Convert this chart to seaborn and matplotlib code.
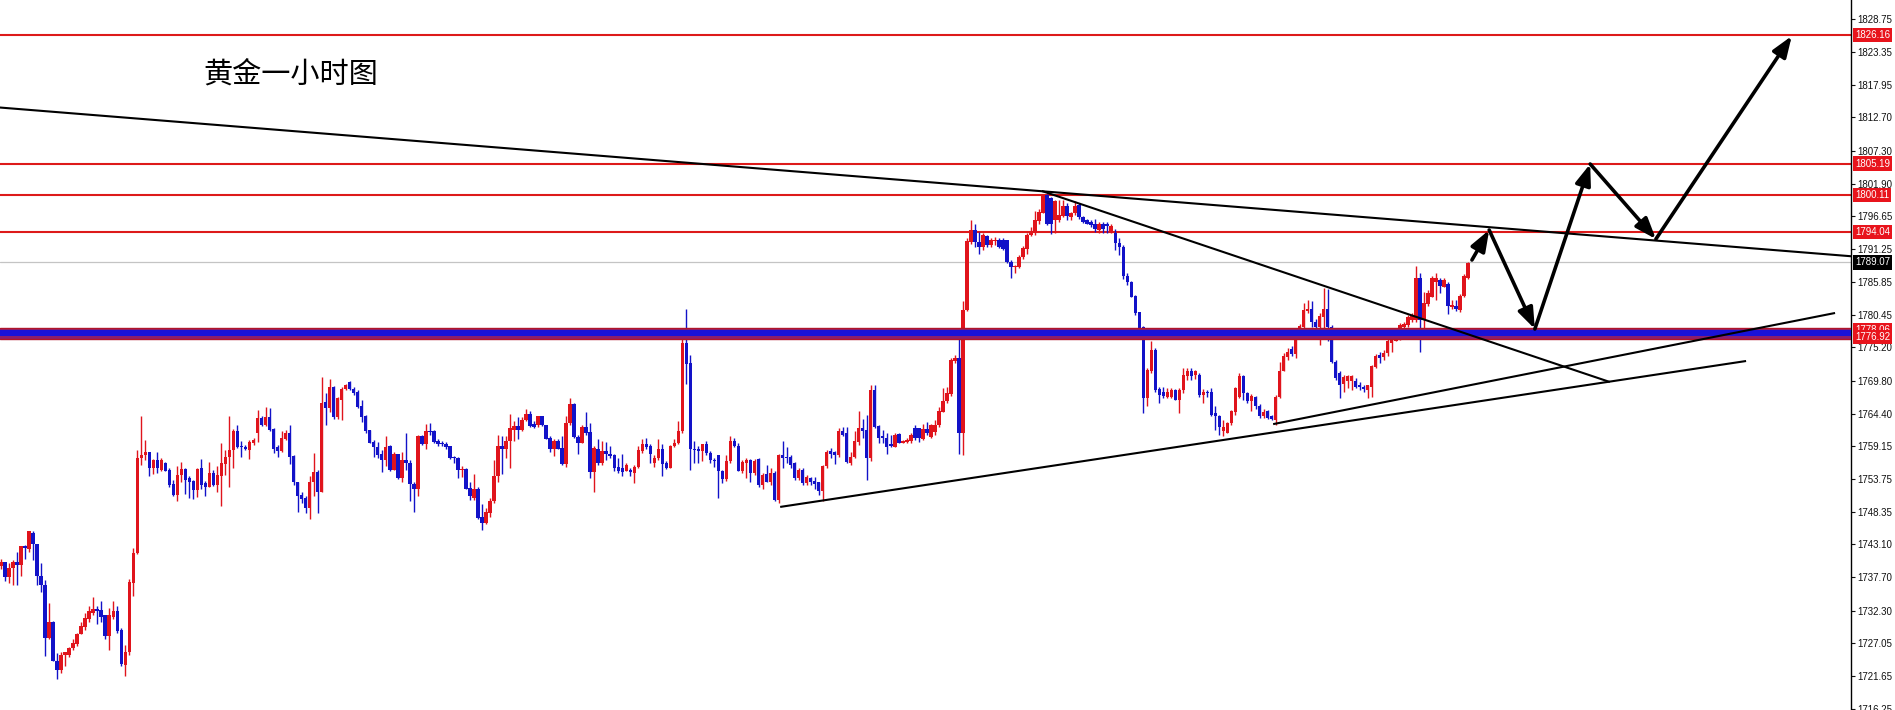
import numpy as np
import pandas as pd
import matplotlib
matplotlib.use("Agg")
import matplotlib.pyplot as plt
import matplotlib.transforms as mtransforms
import seaborn as sns

# ---------------- data ----------------
opens = [
1739.5, 1740.2, 1737.7, 1739.2, 1740.2, 1739.7, 1742.9, 1742.4, 1745.0, 1743.1,
1737.9, 1736.5, 1727.9, 1730.5, 1724.1, 1722.6, 1725.0, 1725.1, 1726.2, 1726.8,
1728.5, 1729.7, 1730.9, 1731.9, 1732.6, 1732.4, 1731.5, 1728.2, 1731.3, 1732.3,
1729.2, 1723.5, 1725.5, 1736.8, 1741.7, 1757.1, 1757.7, 1758.1, 1755.5, 1756.8,
1755.2, 1756.3, 1755.2, 1752.9, 1751.2, 1754.4, 1755.4, 1753.9, 1753.5, 1752.0,
1755.5, 1753.1, 1752.5, 1754.8, 1752.8, 1754.3, 1756.2, 1757.3, 1758.5, 1761.5,
1759.0, 1758.9, 1758.5, 1759.7, 1761.2, 1763.7, 1762.6, 1763.9, 1761.9, 1758.9,
1758.3, 1760.3, 1761.2, 1757.5, 1753.3, 1751.1, 1750.7, 1749.0, 1753.2, 1754.9,
1751.7, 1766.3, 1765.3, 1768.8, 1763.9, 1766.7, 1768.5, 1769.5, 1768.5, 1768.0,
1765.6, 1764.0, 1761.7, 1759.8, 1759.0, 1757.8, 1756.9, 1759.1, 1755.3, 1757.8,
1753.9, 1756.9, 1756.4, 1753.0, 1752.2, 1760.7, 1759.5, 1761.6, 1761.6, 1760.0,
1759.7, 1759.5, 1759.1, 1757.4, 1757.2, 1755.2, 1755.4, 1752.3, 1750.7, 1752.2,
1747.6, 1746.6, 1748.2, 1750.1, 1754.2, 1759.1, 1758.6, 1759.9, 1761.8, 1762.4,
1761.8, 1763.3, 1764.3, 1762.7, 1762.5, 1764.0, 1762.5, 1760.5, 1758.7, 1760.0,
1758.8, 1756.2, 1762.9, 1765.9, 1760.6, 1759.7, 1762.2, 1761.4, 1754.9, 1758.7,
1756.4, 1758.3, 1757.8, 1757.7, 1755.7, 1755.5, 1755.1, 1755.3, 1754.7, 1755.7,
1758.3, 1759.5, 1759.1, 1756.4, 1757.1, 1758.6, 1756.4, 1755.6, 1759.1, 1759.6,
1761.5, 1775.9, 1772.7, 1758.7, 1758.6, 1758.3, 1759.4, 1758.0, 1756.9, 1757.6,
1755.0, 1753.7, 1756.7, 1759.9, 1759.2, 1755.0, 1756.3, 1756.9, 1754.7, 1757.0,
1752.8, 1754.5, 1753.3, 1754.7, 1750.3, 1757.6, 1757.4, 1757.3, 1756.3, 1753.9,
1755.3, 1753.1, 1753.9, 1753.4, 1753.2, 1751.8, 1755.8, 1758.3, 1758.2, 1757.6,
1761.6, 1761.2, 1756.3, 1757.3, 1759.8, 1762.1, 1761.7, 1757.2, 1768.3, 1762.4,
1760.7, 1760.5, 1759.4, 1759.0, 1761.1, 1759.7, 1759.8, 1759.9, 1762.1, 1762.0,
1760.3, 1761.9, 1760.6, 1761.4, 1762.5, 1764.7, 1766.4, 1767.6, 1773.0, 1773.5,
1761.2, 1781.3, 1792.4, 1794.3, 1792.4, 1791.6, 1793.4, 1791.9, 1792.6, 1792.8,
1792.7, 1792.7, 1789.2, 1788.3, 1788.3, 1789.9, 1791.2, 1793.5, 1793.8, 1795.8,
1797.2, 1800.1, 1799.5, 1795.9, 1795.9, 1796.7, 1798.3, 1796.4, 1797.1, 1798.4,
1796.5, 1795.9, 1795.7, 1795.3, 1794.4, 1795.4, 1795.4, 1793.9, 1793.9, 1792.2,
1791.6, 1786.8, 1785.9, 1783.6, 1780.9, 1778.6, 1766.9, 1771.4, 1774.8, 1768.4,
1767.9, 1767.2, 1767.2, 1768.2, 1766.7, 1768.2, 1770.5, 1771.3, 1770.7, 1770.7,
1767.5, 1768.0, 1768.0, 1764.5, 1764.1, 1761.5, 1761.3, 1762.9, 1764.6, 1767.2,
1770.5, 1767.7, 1766.4, 1767.2, 1765.7, 1764.0, 1764.8, 1764.0, 1763.4, 1767.2,
1771.4, 1773.7, 1774.9, 1774.2, 1777.1, 1778.6, 1781.1, 1781.4, 1779.4, 1778.5,
1780.2, 1781.4, 1778.6, 1772.9, 1771.0, 1769.3, 1769.7, 1769.8, 1769.8, 1769.1,
1768.8, 1768.3, 1768.8, 1772.0, 1774.0, 1773.7, 1774.3, 1776.0, 1776.3, 1776.9,
1778.5, 1778.9, 1779.7, 1779.7, 1786.5, 1779.7, 1782.3, 1783.5, 1785.9, 1786.2,
1785.1, 1785.6, 1781.8, 1782.0, 1781.3, 1783.6, 1786.6,
]

highs = [
1740.7, 1740.2, 1740.0, 1740.5, 1741.8, 1742.9, 1743.0, 1745.3, 1745.2, 1743.2,
1740.0, 1737.3, 1733.5, 1730.6, 1725.4, 1725.5, 1725.6, 1726.4, 1727.7, 1728.6,
1730.5, 1731.9, 1733.1, 1734.5, 1733.0, 1733.9, 1731.6, 1732.8, 1733.8, 1733.0,
1729.5, 1726.7, 1737.5, 1742.5, 1758.5, 1764.0, 1760.1, 1758.1, 1757.0, 1758.1,
1757.1, 1756.6, 1755.5, 1753.6, 1755.8, 1756.6, 1755.6, 1754.2, 1753.6, 1755.6,
1757.0, 1753.4, 1756.5, 1755.2, 1755.9, 1759.7, 1758.5, 1764.0, 1761.9, 1762.6,
1759.9, 1759.3, 1760.1, 1760.4, 1765.0, 1764.0, 1765.5, 1765.3, 1762.0, 1759.3,
1761.5, 1761.8, 1762.5, 1757.7, 1753.3, 1751.7, 1750.9, 1754.2, 1758.0, 1755.2,
1770.4, 1767.8, 1770.0, 1768.9, 1767.2, 1768.8, 1769.2, 1769.7, 1768.8, 1768.2,
1766.6, 1764.2, 1761.7, 1760.1, 1759.8, 1758.5, 1760.8, 1759.3, 1758.2, 1757.9,
1758.2, 1761.3, 1756.9, 1753.3, 1760.9, 1760.9, 1762.7, 1762.9, 1761.7, 1760.2,
1760.0, 1759.8, 1759.2, 1757.5, 1757.4, 1755.9, 1755.5, 1753.3, 1754.6, 1752.4,
1749.6, 1749.0, 1750.6, 1756.8, 1761.0, 1760.7, 1760.7, 1764.3, 1763.2, 1763.8,
1763.8, 1765.1, 1764.8, 1763.2, 1764.1, 1764.1, 1762.6, 1760.7, 1760.2, 1760.2,
1760.7, 1764.0, 1766.9, 1766.2, 1761.0, 1762.5, 1764.6, 1762.9, 1759.1, 1760.2,
1759.9, 1759.8, 1759.1, 1757.8, 1757.2, 1757.8, 1756.4, 1755.6, 1756.1, 1759.1,
1760.3, 1760.5, 1759.4, 1757.7, 1760.2, 1759.5, 1756.7, 1759.3, 1760.3, 1763.2,
1777.0, 1781.4, 1774.0, 1759.9, 1759.1, 1759.5, 1760.0, 1758.3, 1757.2, 1757.7,
1755.3, 1757.7, 1760.7, 1760.5, 1759.7, 1756.9, 1757.1, 1757.0, 1757.0, 1757.1,
1754.7, 1756.1, 1755.5, 1755.0, 1757.8, 1760.0, 1758.9, 1757.6, 1756.5, 1755.5,
1755.5, 1754.4, 1754.1, 1754.1, 1753.3, 1756.1, 1758.5, 1758.8, 1758.3, 1762.0,
1762.3, 1762.3, 1758.2, 1761.5, 1764.8, 1763.5, 1764.2, 1769.1, 1769.1, 1762.6,
1761.8, 1761.2, 1760.9, 1761.3, 1761.2, 1760.1, 1760.4, 1761.3, 1762.6, 1762.1,
1762.8, 1763.1, 1762.7, 1763.4, 1765.5, 1768.6, 1768.8, 1773.4, 1774.0, 1777.0,
1782.7, 1793.0, 1796.0, 1795.4, 1794.1, 1793.8, 1793.5, 1793.0, 1793.2, 1793.0,
1793.0, 1792.8, 1789.5, 1788.7, 1790.3, 1791.8, 1793.8, 1794.9, 1797.5, 1797.7,
1800.2, 1800.2, 1799.8, 1799.2, 1799.2, 1799.2, 1798.7, 1797.3, 1799.0, 1798.8,
1796.6, 1796.1, 1795.9, 1796.1, 1795.7, 1795.7, 1795.7, 1795.3, 1794.5, 1793.0,
1791.9, 1787.3, 1786.1, 1783.8, 1781.0, 1778.7, 1771.8, 1776.2, 1775.1, 1768.7,
1768.8, 1768.6, 1768.6, 1768.4, 1768.6, 1771.8, 1771.8, 1771.8, 1771.5, 1771.0,
1768.4, 1768.3, 1768.6, 1765.6, 1764.2, 1763.4, 1763.1, 1765.0, 1768.8, 1771.0,
1770.7, 1768.0, 1767.6, 1767.3, 1766.0, 1765.1, 1765.0, 1764.2, 1767.5, 1772.9,
1774.3, 1775.1, 1775.4, 1777.6, 1779.0, 1782.4, 1783.0, 1782.7, 1779.8, 1780.8,
1784.9, 1784.7, 1778.9, 1773.2, 1771.3, 1770.7, 1770.7, 1770.7, 1770.2, 1769.5,
1769.1, 1769.1, 1772.4, 1774.2, 1774.4, 1774.8, 1776.5, 1776.9, 1778.2, 1779.2,
1779.4, 1780.5, 1780.8, 1788.4, 1787.3, 1784.3, 1784.5, 1786.8, 1787.3, 1786.5,
1786.5, 1785.8, 1783.0, 1783.0, 1783.9, 1787.2, 1789.2,
]

lows = [
1739.0, 1737.2, 1736.8, 1736.5, 1736.4, 1737.9, 1740.7, 1741.8, 1740.6, 1736.4,
1735.3, 1724.9, 1727.6, 1724.0, 1721.1, 1722.1, 1723.2, 1724.8, 1725.8, 1726.5,
1728.4, 1729.2, 1730.5, 1731.6, 1730.1, 1730.5, 1727.6, 1725.8, 1731.0, 1728.6,
1723.2, 1721.7, 1725.1, 1734.6, 1741.6, 1756.1, 1756.9, 1754.2, 1754.6, 1754.8,
1755.1, 1755.0, 1752.5, 1750.9, 1750.2, 1753.3, 1751.3, 1750.7, 1750.5, 1750.8,
1752.1, 1751.0, 1752.4, 1752.6, 1751.7, 1749.4, 1754.4, 1752.4, 1755.5, 1758.8,
1757.4, 1758.5, 1757.0, 1759.3, 1759.8, 1762.4, 1762.4, 1761.5, 1758.0, 1757.3,
1758.2, 1760.1, 1756.2, 1752.8, 1748.4, 1749.9, 1748.2, 1747.3, 1750.9, 1748.2,
1751.6, 1762.5, 1764.7, 1763.6, 1763.5, 1763.4, 1768.2, 1768.2, 1767.4, 1765.4,
1763.1, 1761.3, 1759.6, 1757.4, 1757.1, 1754.9, 1755.8, 1755.1, 1755.2, 1753.7,
1753.2, 1755.3, 1750.1, 1748.3, 1750.9, 1759.3, 1758.7, 1760.9, 1759.7, 1759.1,
1759.2, 1758.7, 1757.0, 1756.3, 1753.9, 1754.1, 1752.1, 1750.4, 1750.3, 1747.3,
1745.5, 1746.4, 1747.6, 1749.9, 1753.3, 1754.6, 1757.2, 1755.6, 1759.9, 1760.3,
1761.5, 1763.2, 1762.2, 1762.1, 1762.2, 1762.4, 1760.2, 1758.2, 1757.5, 1758.6,
1756.1, 1755.7, 1762.6, 1760.4, 1757.8, 1759.6, 1761.0, 1753.9, 1751.7, 1756.1,
1756.1, 1756.9, 1757.2, 1755.0, 1754.7, 1754.2, 1755.0, 1754.2, 1753.1, 1755.6,
1758.0, 1758.7, 1756.4, 1755.7, 1756.8, 1754.2, 1755.4, 1755.5, 1758.9, 1759.5,
1761.3, 1769.2, 1755.2, 1756.4, 1756.4, 1756.7, 1757.7, 1756.4, 1755.7, 1750.7,
1753.1, 1753.5, 1756.4, 1758.9, 1755.0, 1754.7, 1753.9, 1753.3, 1754.4, 1752.5,
1752.1, 1753.2, 1752.8, 1750.1, 1749.8, 1755.5, 1756.3, 1755.5, 1753.6, 1753.6,
1752.8, 1752.8, 1752.8, 1752.1, 1751.2, 1750.1, 1755.5, 1757.1, 1756.2, 1757.4,
1760.7, 1756.3, 1756.1, 1757.1, 1759.3, 1760.4, 1753.6, 1756.7, 1762.0, 1759.7,
1759.7, 1757.8, 1758.9, 1758.9, 1759.6, 1759.6, 1759.6, 1759.7, 1760.1, 1759.8,
1760.1, 1761.0, 1760.4, 1761.0, 1762.3, 1764.6, 1766.2, 1767.3, 1772.6, 1757.9,
1757.6, 1781.1, 1792.0, 1791.6, 1790.5, 1791.1, 1791.6, 1791.6, 1791.9, 1791.4,
1791.1, 1789.0, 1786.5, 1787.4, 1788.1, 1789.7, 1790.4, 1793.3, 1793.5, 1795.4,
1797.1, 1795.2, 1793.7, 1793.8, 1795.7, 1796.4, 1795.9, 1795.9, 1796.8, 1796.1,
1795.5, 1795.3, 1794.9, 1794.1, 1793.8, 1793.8, 1793.9, 1793.8, 1791.1, 1790.3,
1786.3, 1785.4, 1783.4, 1780.5, 1778.1, 1764.5, 1765.6, 1771.1, 1767.9, 1766.2,
1766.9, 1766.9, 1766.9, 1766.6, 1764.5, 1767.7, 1769.9, 1769.9, 1770.0, 1767.2,
1766.2, 1767.2, 1764.0, 1761.8, 1761.0, 1760.7, 1761.2, 1762.6, 1764.2, 1766.9,
1766.7, 1766.2, 1764.8, 1765.1, 1763.7, 1763.7, 1763.5, 1763.3, 1762.6, 1766.9,
1771.3, 1773.2, 1773.8, 1773.5, 1776.9, 1777.5, 1780.8, 1778.6, 1778.3, 1775.6,
1777.3, 1776.2, 1772.6, 1769.9, 1766.9, 1768.0, 1768.6, 1768.3, 1768.6, 1768.3,
1768.0, 1766.9, 1767.2, 1771.8, 1772.6, 1773.2, 1773.8, 1774.5, 1776.2, 1776.4,
1778.3, 1778.6, 1779.4, 1779.4, 1774.5, 1776.5, 1782.0, 1783.4, 1783.0, 1784.0,
1785.0, 1780.7, 1781.4, 1781.2, 1780.9, 1783.4, 1786.3,
]

closes = [
1740.3, 1737.7, 1739.3, 1740.2, 1739.7, 1742.8, 1742.5, 1745.2, 1743.1, 1737.9,
1736.4, 1727.9, 1730.4, 1724.1, 1722.6, 1725.0, 1725.5, 1726.2, 1727.0, 1728.5,
1729.8, 1731.1, 1732.2, 1732.6, 1732.3, 1731.3, 1728.2, 1731.5, 1732.3, 1728.9,
1723.6, 1725.5, 1736.9, 1741.7, 1757.1, 1757.7, 1758.1, 1755.5, 1756.8, 1755.5,
1756.8, 1755.1, 1752.8, 1751.2, 1754.4, 1755.4, 1753.6, 1753.2, 1752.0, 1755.4,
1752.8, 1752.5, 1754.7, 1752.8, 1754.4, 1756.3, 1757.4, 1758.5, 1761.5, 1759.0,
1758.9, 1758.6, 1759.8, 1760.1, 1763.7, 1762.6, 1763.9, 1761.7, 1758.6, 1758.3,
1760.4, 1761.2, 1757.4, 1753.2, 1751.0, 1750.5, 1749.0, 1753.3, 1754.9, 1751.7,
1766.2, 1765.3, 1768.8, 1763.9, 1766.9, 1768.5, 1769.1, 1768.5, 1767.8, 1765.5,
1763.9, 1761.6, 1759.7, 1758.9, 1757.7, 1756.9, 1758.9, 1755.3, 1757.8, 1753.9,
1756.9, 1756.3, 1752.9, 1752.2, 1760.7, 1759.5, 1761.5, 1761.4, 1759.8, 1759.5,
1759.4, 1758.9, 1757.2, 1757.1, 1755.3, 1755.4, 1752.2, 1750.9, 1752.2, 1747.4,
1746.6, 1748.3, 1750.2, 1754.2, 1759.1, 1758.6, 1759.9, 1762.0, 1762.4, 1761.8,
1763.4, 1764.3, 1762.4, 1762.2, 1764.0, 1762.5, 1760.3, 1758.6, 1760.0, 1758.7,
1756.2, 1762.9, 1765.9, 1760.6, 1759.7, 1762.2, 1761.3, 1754.9, 1758.8, 1756.4,
1758.3, 1757.8, 1757.5, 1755.6, 1755.1, 1754.9, 1756.1, 1754.9, 1755.7, 1758.4,
1759.5, 1758.9, 1757.8, 1757.2, 1758.6, 1756.2, 1755.6, 1759.1, 1759.7, 1761.5,
1775.9, 1772.5, 1758.6, 1758.4, 1758.3, 1759.4, 1758.0, 1756.8, 1756.7, 1755.0,
1753.7, 1756.7, 1759.9, 1759.1, 1755.1, 1756.6, 1756.9, 1754.7, 1756.7, 1752.8,
1754.4, 1753.3, 1754.7, 1750.3, 1757.6, 1757.2, 1757.1, 1756.1, 1753.9, 1755.2,
1753.1, 1754.1, 1753.3, 1753.0, 1751.8, 1755.9, 1758.2, 1757.9, 1757.6, 1761.6,
1761.0, 1756.5, 1757.4, 1760.0, 1762.1, 1761.6, 1757.2, 1768.3, 1762.3, 1760.5,
1760.4, 1759.0, 1759.1, 1761.0, 1759.7, 1760.0, 1760.1, 1761.0, 1760.4, 1760.4,
1761.9, 1761.3, 1762.5, 1762.6, 1764.8, 1766.5, 1767.7, 1773.2, 1773.4, 1761.2,
1781.3, 1792.5, 1794.3, 1792.4, 1791.5, 1793.5, 1791.9, 1792.8, 1792.8, 1791.6,
1791.2, 1789.2, 1788.3, 1788.5, 1790.0, 1791.4, 1793.5, 1793.9, 1795.9, 1797.3,
1799.9, 1795.3, 1795.4, 1799.1, 1796.8, 1798.3, 1796.6, 1797.2, 1798.2, 1796.4,
1795.7, 1795.4, 1795.2, 1794.5, 1795.4, 1794.5, 1795.0, 1795.0, 1792.3, 1791.6,
1786.8, 1785.8, 1783.5, 1780.8, 1778.3, 1766.9, 1771.5, 1774.8, 1768.3, 1767.5,
1767.3, 1768.0, 1768.3, 1766.7, 1768.3, 1770.7, 1771.3, 1770.5, 1771.3, 1767.5,
1768.0, 1767.7, 1764.2, 1764.1, 1762.3, 1762.3, 1762.9, 1764.8, 1768.6, 1770.5,
1767.7, 1766.4, 1767.3, 1765.6, 1764.0, 1764.6, 1763.7, 1763.5, 1767.2, 1771.4,
1773.8, 1774.5, 1774.2, 1777.2, 1778.7, 1781.3, 1781.4, 1779.3, 1778.5, 1780.3,
1781.4, 1778.5, 1772.9, 1770.2, 1769.1, 1770.4, 1770.5, 1770.6, 1768.8, 1768.7,
1768.4, 1769.0, 1772.1, 1773.8, 1773.5, 1774.3, 1776.3, 1776.5, 1777.1, 1778.9,
1779.0, 1780.2, 1780.5, 1786.5, 1779.7, 1782.4, 1784.0, 1786.5, 1786.5, 1785.2,
1786.2, 1781.9, 1782.1, 1781.4, 1783.6, 1786.8, 1789.0,
]

tick_values = [1828.75, 1823.35, 1817.95, 1812.70, 1807.30, 1801.90, 1796.65,
               1791.25, 1785.85, 1780.45, 1775.20, 1769.80, 1764.40, 1759.15,
               1753.75, 1748.35, 1743.10, 1737.70, 1732.30, 1727.05, 1721.65,
               1716.25]
tick_labels = ["1828.75", "1823.35", "1817.95", "1812.70", "1807.30", "1801.90",
               "1796.65", "1791.25", "1785.85", "1780.45", "1775.20", "1769.80",
               "1764.40", "1759.15", "1753.75", "1748.35", "1743.10", "1737.70",
               "1732.30", "1727.05", "1721.65", "1716.25"]

level_prices = [1826.16, 1805.19, 1800.11, 1794.04]
level_texts = ["1826.16", "1805.19", "1800.11", "1794.04"]
band_prices = [1778.06, 1776.92]
band_texts = ["1778.06", "1776.92"]
current_price = 1789.07
current_text = "1789.07"

# trend lines (bar index, price)
trend_x0 = [-0.3, 259.7, 194.4, 317.4]
trend_y0 = [1814.32, 1800.71, 1749.2, 1762.7]
trend_x1 = [461.8, 401.4, 435.4, 457.6]
trend_y1 = [1790.06, 1769.57, 1772.99, 1780.82]

# forecast arrow path (bar index, price)
path_x = [367.0, 371.3, 382.7, 396.5, 412.9, 446.8]
path_y = [1789.46, 1794.35, 1778.21, 1805.11, 1792.88, 1825.98]

title_text = "黄金一小时图"

# ---------------- style ----------------
sns.set_theme(style="white")
plt.rcParams["font.family"] = ["Noto Sans CJK SC", "DejaVu Sans"]

W, H = 1895, 710
AX_W = 1851
fig = plt.figure(figsize=(W / 100, H / 100), dpi=100)
fig.patch.set_facecolor("white")
ax = fig.add_axes([0, 0, AX_W / W, 1])
ax.set_facecolor("white")

UP = "#e0141c"
DOWN = "#1212c8"
LINE_RED = "#dd1a1a"

df = pd.DataFrame({"o": opens, "h": highs, "l": lows, "c": closes})
df["x"] = np.arange(len(df))
df["up"] = df["c"] >= df["o"]
df["lo"] = df[["o", "c", "l"]].min(axis=1)
df["hi"] = df[["o", "c", "h"]].max(axis=1)
df["bottom"] = df[["o", "c"]].min(axis=1)
df["height"] = (df["c"] - df["o"]).abs().clip(lower=0.18)
colors = np.where(df["up"], UP, DOWN)

# horizontal levels (behind candles)
for p in level_prices:
    ax.axhline(p, color=LINE_RED, lw=1.5, zorder=1)
ax.axhline(current_price, color="#c4c4c4", lw=0.9, zorder=1)

# candles
ax.vlines(df["x"], df["lo"], df["hi"], colors=colors, lw=1.0, zorder=3)
ax.bar(df["x"], df["height"], bottom=df["bottom"], width=0.86,
       color=colors, linewidth=0, zorder=4)

# support band
ax.axhspan(1776.55, 1778.45, color="#8a1e6e", lw=0, zorder=5)
ax.axhspan(1777.05, 1777.98, color="#1a12d8", lw=0, zorder=6)
ax.axhline(1778.34, color="#b0142a", lw=1.0, zorder=6)
ax.axhline(1776.66, color="#b0142a", lw=1.0, zorder=6)

# trend lines
for x0, y0, x1, y1 in zip(trend_x0, trend_y0, trend_x1, trend_y1):
    ax.plot([x0, x1], [y0, y1], color="black", lw=1.5, zorder=7,
            solid_capstyle="butt")

# forecast arrows
for i in range(len(path_x) - 1):
    ax.annotate("", xy=(path_x[i + 1], path_y[i + 1]),
                xytext=(path_x[i], path_y[i]),
                arrowprops=dict(arrowstyle="-|>,head_length=0.7,head_width=0.26",
                                lw=2.6, color="black", mutation_scale=18,
                                shrinkA=0, shrinkB=0),
                zorder=8)

# axes limits
ax.set_xlim(-0.25, (AX_W - 1) / 4.008)
ax.set_ylim(1716.09, 1831.85)

# spines / ticks
for s in ["top", "bottom", "left"]:
    ax.spines[s].set_visible(False)
ax.spines["right"].set_visible(True)
ax.spines["right"].set_color("black")
ax.spines["right"].set_linewidth(1.0)
ax.set_xticks([])
ax.yaxis.tick_right()
ax.set_yticks(tick_values)
ax.set_yticklabels(tick_labels, fontfamily="Liberation Sans", fontsize=7.0)
ax.tick_params(axis="y", direction="out", length=3, width=0.8, pad=1.6,
               colors="#111111", right=True, left=False)
ax.grid(False)

# price tags on the right axis
trans = mtransforms.blended_transform_factory(fig.transFigure, ax.transData)
tag_x = 1855 / W
for p, t in zip(level_prices + band_prices, level_texts + band_texts):
    ax.text(tag_x, p, t, transform=trans, ha="left", va="center",
            fontsize=7.0, color="white", fontfamily="Liberation Sans",
            bbox=dict(boxstyle="square,pad=0.22", fc="#e8141c", ec="none"),
            clip_on=False, zorder=10)
ax.text(tag_x, current_price, current_text, transform=trans, ha="left",
        va="center", fontsize=7.0, color="white", fontfamily="Liberation Sans",
        bbox=dict(boxstyle="square,pad=0.22", fc="black", ec="none"),
        clip_on=False, zorder=10)

# title
fig.text(203 / W, 1 - 75 / H, title_text, fontsize=21, ha="left", va="center",
         color="black", family=["Noto Sans CJK SC", "DejaVu Sans"])

fig.savefig("out.png", dpi=100, facecolor="white")
